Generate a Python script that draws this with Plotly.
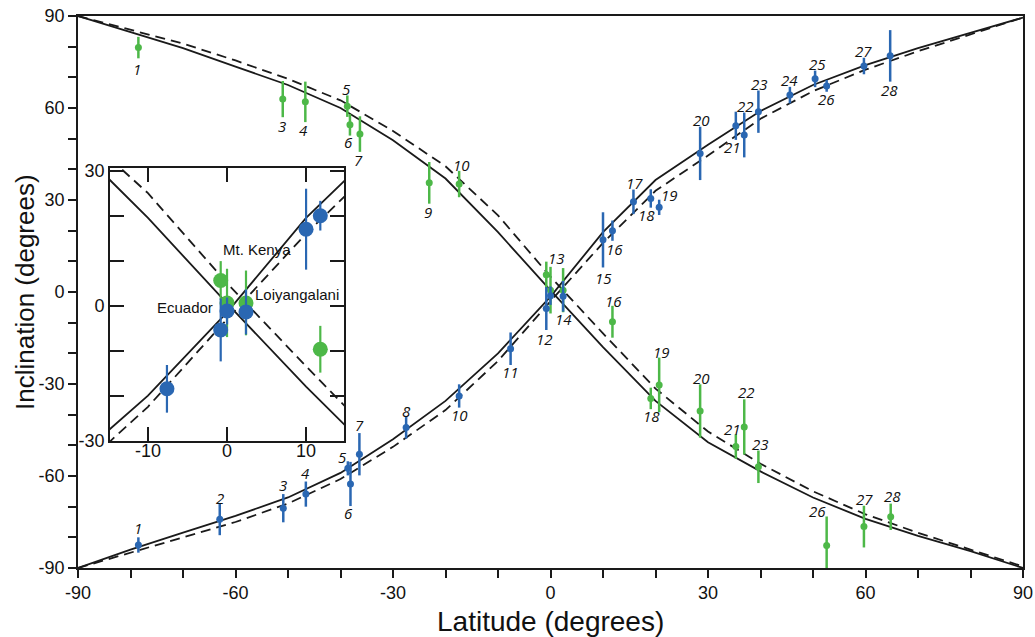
import plotly.graph_objects as go

# ---------------- data ----------------
# model curves (inclination vs latitude)
curve_lat = [-90, -80, -70, -60, -50, -40, -30, -20, -10, 0, 10, 20, 30, 40, 50, 60, 70, 80, 90]
normal_solid = [-90, -84, -78.5, -73, -67, -59, -48, -35.5, -20, -1.5, 19.5, 36.5, 48, 59, 67.5, 74, 79.5, 84.5, 89.5]
normal_dashed = [-90, -85, -80, -75, -69, -61, -50.5, -38.5, -22.5, -3, 16, 33, 44.5, 56.5, 65.5, 72.5, 78.5, 84, 89.5]
reversed_solid = [90, 84.8, 79.5, 73.5, 67.5, 60, 49.5, 37, 19.5, 0.5, -18, -35.5, -49, -58.5, -67, -74, -79.5, -84.5, -90]
reversed_dashed = [90, 85.5, 81, 75.5, 69.5, 62.5, 52.5, 41, 25, 5, -13.5, -31.5, -45.5, -56, -65, -72.5, -78.5, -84, -89.5]

# blue (normal) sites
blue_id = ["1", "2", "3", "4", "5", "6", "7", "8", "10", "11", "12", "", "14", "15", "16",
           "17", "18", "19", "20", "21", "22", "23", "24", "25", "26", "27", "28"]
blue_lat = [-78.5, -63.0, -50.9, -46.6, -38.6, -38.1, -36.4, -27.5, -17.4, -7.6, -0.8, 0.0, 2.4, 10.0, 11.8,
            15.8, 19.1, 20.7, 28.5, 35.3, 36.9, 39.6, 45.6, 50.4, 52.6, 59.7, 64.7]
blue_inc = [-82.5, -74.1, -70.5, -65.9, -57.5, -62.6, -52.9, -44.2, -33.9, -18.5, -5.4, -1.2, -1.4, 17.0, 20.0,
            29.4, 30.5, 27.6, 45.2, 54.2, 51.2, 58.8, 64.2, 69.5, 67.2, 73.7, 77.0]
blue_err = [2.5, 5.2, 4.6, 4.1, 2.3, 7.2, 6.9, 3.6, 3.8, 5.3, 7.0, 3.0, 5.0, 9.0, 3.3,
            4.0, 3.0, 2.5, 8.7, 4.6, 7.3, 6.9, 2.7, 2.7, 1.9, 2.7, 8.4]

# green (reversed) sites
green_id = ["1", "3", "4", "5", "6", "7", "9", "10", "13", "", "14", "16", "18", "19", "20",
            "21", "22", "23", "26", "27", "28"]
green_lat = [-78.5, -51.0, -46.7, -38.7, -38.2, -36.3, -23.1, -17.4, -0.8, 0.0, 2.4, 11.8, 19.1, 20.7, 28.5,
             35.3, 36.9, 39.6, 52.6, 59.7, 64.8]
green_inc = [79.7, 62.9, 62.0, 60.6, 54.5, 51.5, 35.6, 35.2, 5.6, 0.6, 0.6, -9.7, -34.7, -30.3, -38.8,
             -50.4, -44.0, -57.0, -82.7, -76.5, -73.3]
green_err = [3.5, 5.9, 6.6, 3.5, 3.5, 5.8, 6.8, 4.3, 4.3, 7.6, 7.2, 5.2, 3.5, 8.9, 8.7,
             4.0, 9.0, 5.3, 9.5, 6.8, 4.3]

# axis ticks
main_ticks = [-90, -60, -30, 0, 30, 60, 90]
main_tick_text = ["-90", "-60", "-30", "0", "30", "60", "90"]
main_minor = [-80, -70, -50, -40, -20, -10, 10, 20, 40, 50, 70, 80]
inset_x_ticks = [-10, 0, 10]
inset_x_text = ["-10", "0", "10"]
inset_y_ticks = [-30, -20, -10, 0, 10, 20, 30]
inset_y_text = ["-30", "", "", "0", "", "", "30"]

# ---------------- styles ----------------
BLUE = "#2a67b2"
GREEN = "#4db848"
LINE = "#1a1a1a"
FONT = "Liberation Sans, Arial, sans-serif"
LABEL_FONT = "Open Sans, Liberation Sans, sans-serif"

# label offsets in pixels (dx, dy; dy positive = down); sites absent here share a label
blue_off = {"1": (0, -17), "2": (0, -21), "3": (0, -23), "4": (0, -21), "5": (-5, -11), "6": (-2, 29),
            "7": (0, -29), "8": (0, -17), "10": (0, 19), "11": (0, 23), "12": (-2, 30), "14": (0, 23),
            "15": (0, 38), "16": (2, 18), "17": (1, -19), "18": (-4, 17), "19": (10, -12), "20": (1, -33),
            "21": (-3, 21), "22": (1, -29), "23": (1, -28), "24": (0, -15), "25": (2, -15), "26": (0, 13),
            "27": (0, -15), "28": (-1, 34)}
green_off = {"1": (-1, 21), "3": (-1, 27), "4": (-2, 28), "5": (-1, -17), "6": (-1, 17), "7": (-1, 26),
             "9": (-1, 29), "10": (2, -19), "13": (10, -17), "16": (1, -21), "18": (1, 18), "19": (2, -33),
             "20": (1, -33), "21": (-3, -18), "22": (2, -35), "23": (2, -23), "26": (-9, -35),
             "27": (1, -28), "28": (2, -21)}

fig = go.Figure()

def add_curves(xa, ya):
    for ys, dash in [(normal_dashed, "10px,6px"), (reversed_dashed, "10px,6px"),
                     (normal_solid, "solid"), (reversed_solid, "solid")]:
        fig.add_trace(go.Scatter(x=curve_lat, y=ys, mode="lines", xaxis=xa, yaxis=ya,
                                 line=dict(color=LINE, width=1.8, dash=dash),
                                 hoverinfo="skip", showlegend=False))

def add_points(xa, ya, size, thick):
    for lat, inc, err, col in [(green_lat, green_inc, green_err, GREEN), (blue_lat, blue_inc, blue_err, BLUE)]:
        fig.add_trace(go.Scatter(x=lat, y=inc, mode="markers", xaxis=xa, yaxis=ya,
                                 marker=dict(color=col, size=size),
                                 error_y=dict(type="data", array=err, visible=True, color=col,
                                              thickness=thick, width=0),
                                 showlegend=False))

add_curves("x", "y")
add_points("x", "y", 7, 2.5)
add_curves("x2", "y2")
add_points("x2", "y2", 15, 2.2)

annotations = []
for ids, lats, incs, offs in [(blue_id, blue_lat, blue_inc, blue_off), (green_id, green_lat, green_inc, green_off)]:
    for s, la, ic in zip(ids, lats, incs):
        if s not in offs:
            continue
        dx, dy = offs[s]
        annotations.append(dict(x=la, y=ic, xref="x", yref="y", text="<i>" + s + "</i>",
                                showarrow=False, xshift=dx, yshift=-dy,
                                font=dict(family=LABEL_FONT, size=15, color="#111")))

for txt, x, y, anc in [("Mt. Kenya", 3.75, 12.5, "center"), ("Ecuador", -1.5, -0.5, "right"),
                       ("Loiyangalani", 3.3, 2.4, "left")]:
    annotations.append(dict(x=x, y=y, xref="x2", yref="y2", text=txt, showarrow=False,
                            xanchor=anc, font=dict(family=FONT, size=15, color="#111")))

# axis titles
annotations.append(dict(text="Latitude (degrees)", x=0.5, y=-0.0978, xref="paper", yref="paper",
                        xanchor="center", yanchor="middle", showarrow=False,
                        font=dict(family=FONT, size=28, color="#111")))
annotations.append(dict(text="Inclination (degrees)", x=-0.0561, y=0.5, xref="paper", yref="paper",
                        xanchor="center", yanchor="middle", textangle=-90, showarrow=False,
                        font=dict(family=FONT, size=26, color="#111")))

axis_common = dict(showline=True, linecolor=LINE, linewidth=1.6, showgrid=False, zeroline=False,
                   automargin=False, tickmode="array",
                   tickfont=dict(family=FONT, size=18, color="#111"), tickcolor=LINE, tickwidth=1.6)

fig.update_layout(
    width=1035, height=637,
    margin=dict(l=78, r=12, t=16, b=69),
    paper_bgcolor="white", plot_bgcolor="white",
    xaxis=dict(range=[-90, 90], domain=[0, 1], anchor="y", mirror=True, ticks="outside", ticklen=8,
               tickvals=main_ticks, ticktext=main_tick_text,
               minor=dict(tickmode="array", tickvals=main_minor, ticks="outside", ticklen=8,
                          tickwidth=1.6, tickcolor=LINE),
               **axis_common),
    yaxis=dict(range=[-90, 90], domain=[0, 1], anchor="x", mirror=True, ticks="outside", ticklen=8,
               tickvals=main_ticks, ticktext=main_tick_text,
               minor=dict(tickmode="array", tickvals=main_minor, ticks="outside", ticklen=8,
                          tickwidth=1.6, tickcolor=LINE),
               **axis_common),
    xaxis2=dict(range=[-14.8, 14.8], domain=[0.0339, 0.2815], anchor="y2", mirror="ticks", ticks="inside",
                ticklen=14, tickvals=inset_x_ticks, ticktext=inset_x_text, ticklabelstandoff=-7,
                **axis_common),
    yaxis2=dict(range=[-30.1, 30.6], domain=[0.2301, 0.7246], anchor="x2", mirror="ticks", ticks="inside",
                ticklen=14, tickvals=inset_y_ticks, ticktext=inset_y_text, **axis_common),
    annotations=annotations,
)

fig.write_html("out.html")
